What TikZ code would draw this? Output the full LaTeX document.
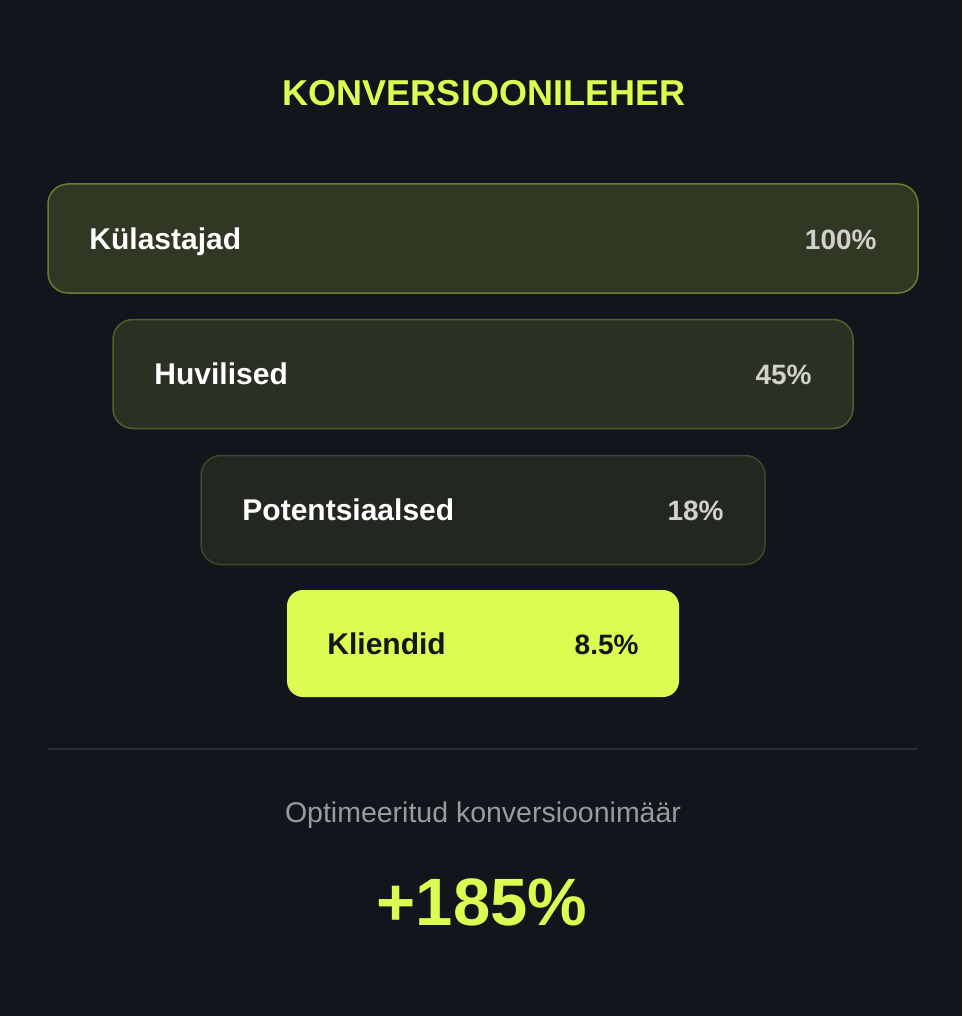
\documentclass[tikz,border=0pt]{standalone}
\usepackage{fontspec}
\setmainfont{Liberation Sans}
\definecolor{fond}{HTML}{12151C}
\definecolor{citron}{HTML}{DCFC52}
\definecolor{gris}{HTML}{9A9B9F}
\definecolor{pct}{HTML}{D0D0CC}
\definecolor{encre}{HTML}{14161A}
\definecolor{trait}{HTML}{2A2D33}

\tikzstyle{barre}=[rounded corners=20pt,line width=1.5pt,minimum height=109pt,inner sep=0pt]
\tikzstyle{etiq}=[anchor=base west,inner sep=0pt,white,font=\fontsize{30}{33}\selectfont\bfseries]
\tikzstyle{taux}=[anchor=base east,inner sep=0pt,pct,font=\fontsize{28}{31}\selectfont\bfseries]

\begin{document}
\begin{tikzpicture}[x=1pt,y=-1pt]
\fill[fond] (0,0) rectangle (962,1016);
\useasboundingbox (0,0) rectangle (962,1016);
\node[anchor=base,inner sep=0pt,citron,font=\fontsize{36}{40}\selectfont\bfseries] (titre) at (484,106) {KONVERSIOONILEHER};
\foreach \n/\w/\y/\a/\b/\lab/\p in {1/870/238.5/15/44/Külastajad/100\%,2/740/374/12/32/Huvilised/45\%,3/564/510/8/22/Potentsiaalsed/18\%}{
\node[barre,minimum width=\w pt,fill=citron!\a!fond,draw=citron!\b!fond] (b\n) at (483,\y) {};
\node[etiq] (l\n) at ([xshift=42pt,yshift=-10.5pt]b\n.west) {\lab};
\node[taux] (p\n) at ([xshift=-42pt,yshift=-10.5pt]b\n.east) {\p};
}
\node[barre,rounded corners=16pt,minimum width=392pt,minimum height=107pt,fill=citron] (b4) at (483,643.5) {};
\node[etiq,encre] (l4) at ([xshift=41pt,yshift=-10.5pt]b4.west) {Kliendid};
\node[taux,encre] (p4) at ([xshift=-41pt,yshift=-10.5pt]b4.east) {8.5\%};
\coordinate (sg) at (48,748.5);
\coordinate (sd) at (918,748.5);
\draw[trait,line width=2pt] (sg) -- (sd);
\node[anchor=base,inner sep=0pt,gris,font=\fontsize{28.5}{31}\selectfont] (sous) at (483,822.5) {Optimeeritud konversioonimäär};
\node[anchor=base,inner sep=0pt,citron,font=\fontsize{67}{72}\selectfont\bfseries] (gain) at (482,925) {+185\%};
\end{tikzpicture}
\end{document}
